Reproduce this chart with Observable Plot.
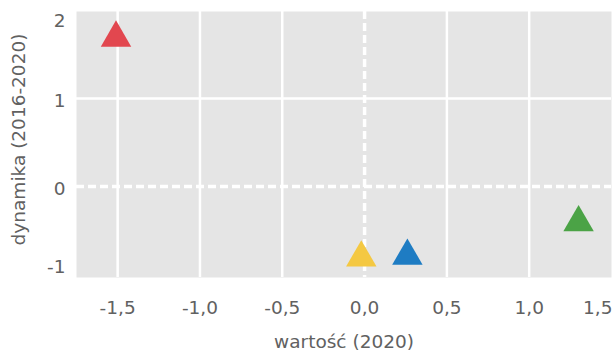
<!DOCTYPE html>
<html><head><meta charset="utf-8">
<script src="https://cdn.jsdelivr.net/npm/d3@7"></script>
<script src="https://cdn.jsdelivr.net/npm/@observablehq/plot@0.6"></script>
<style>
html,body{margin:0;padding:0;background:#fff;}
svg{display:block;}
</style></head>
<body><div id="chart"></div>
<script>
const wartosc = [-1.51, -0.02, 0.26, 1.30];
const dynamika = [1.69, -0.81, -0.79, -0.41];
const colors = ["#E2474F", "#F4C842", "#1E7CC3", "#4BA346"];
const xTicks = [-1.5, -1.0, -0.5, 0, 0.5, 1.0, 1.5];
const yTicks = [-1, 0, 1, 2];
const xTitle = "wartość (2020)";
const yTitle = "dynamika (2016-2020)";

const pts = wartosc.map((x, i) => ({x, y: dynamika[i], c: colors[i]}));
const fmtX = d => d3.format(".1f")(d).replace(".", ",").replace("−", "-");
const fmtY = d => String(d).replace("−", "-");
const txt = "#616161";
const font = "DejaVu Sans";
const fs = 18.5;

const chart = Plot.plot({
  width: 613, height: 354,
  marginLeft: 76, marginRight: 2, marginTop: 11, marginBottom: 77,
  style: {fontFamily: font, fontSize: fs + "px", color: txt, background: "#fff"},
  x: {domain: [-1.75, 1.5], label: null},
  y: {domain: [-1.035, 1.99], label: null},
  marks: [
    Plot.frame({fill: "#E5E5E5", stroke: null}),
    Plot.ruleX(xTicks.filter(d => d !== 0 && d < 1.5), {stroke: "#fff", strokeWidth: 2.5}),
    Plot.ruleY(yTicks.filter(d => d === 1), {stroke: "#fff", strokeWidth: 2.5}),
    Plot.ruleX([0], {stroke: "#fff", strokeWidth: 3.5, strokeDasharray: "8,4"}),
    Plot.ruleY([0], {stroke: "#fff", strokeWidth: 3.5, strokeDasharray: "8,4"}),
    Plot.dot(pts, {x: "x", y: "y", fill: "c", symbol: "triangle", r: 11.3, stroke: null}),
    Plot.axisX(xTicks.filter(d => d < 1.5), {tickSize: 0, tickPadding: 23, tickFormat: fmtX, fontSize: fs, fill: txt, label: null}),
    Plot.axisX([1.5], {tickSize: 0, tickPadding: 23, tickFormat: fmtX, fontSize: fs, fill: txt, textAnchor: "end", dx: 1, label: null}),
    Plot.axisX([], {label: xTitle, labelAnchor: "center", labelArrow: "none", labelOffset: 70, fontSize: fs, fill: txt}),
    Plot.axisY([0, 1], {tickSize: 0, tickPadding: 11, tickFormat: fmtY, fontSize: fs, fill: txt, dy: 3, label: null}),
    Plot.axisY([2], {tickSize: 0, tickPadding: 11, tickFormat: fmtY, fontSize: fs, fill: txt, dy: 10, label: null}),
    Plot.axisY([-1], {tickSize: 0, tickPadding: 11, tickFormat: fmtY, fontSize: fs, fill: txt, dy: -7, label: null}),
    Plot.text([yTitle], {frameAnchor: "left", textAnchor: "middle", rotate: -90, dx: -57, dy: -5, text: d => d, fontSize: fs, fill: txt})
  ]
});
document.getElementById("chart").appendChild(chart);
</script>
</body></html>
